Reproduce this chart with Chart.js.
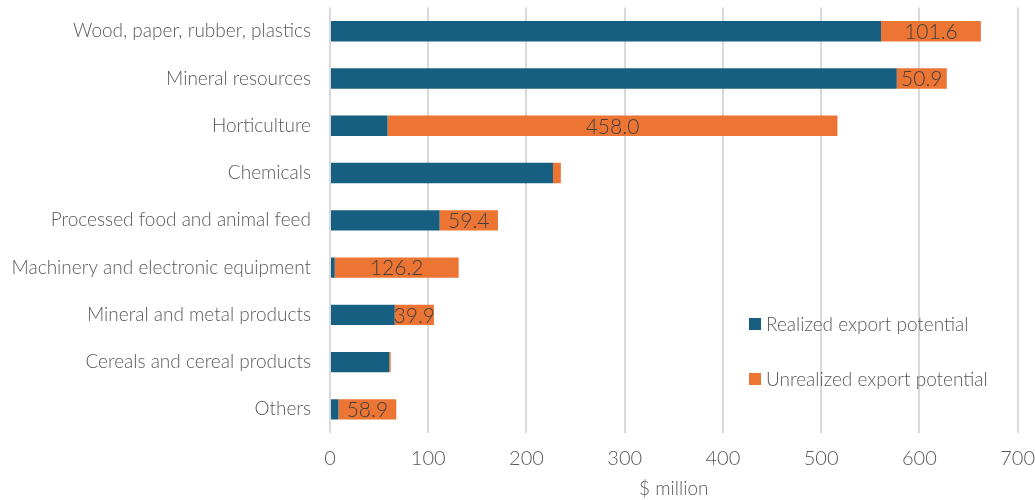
<!DOCTYPE html>
<html>
<head>
<meta charset="utf-8">
<script src="https://cdn.jsdelivr.net/npm/chart.js@4.4.1/dist/chart.umd.min.js"></script>
<style>
  html, body { margin: 0; padding: 0; background: #ffffff; }
  #wrap { width: 1035px; height: 500px; position: relative; }
</style>
</head>
<body>
<div id="wrap"><canvas id="chart" width="1035" height="500"></canvas></div>
<script>
const categories = [
  "Wood, paper, rubber, plastics",
  "Mineral resources",
  "Horticulture",
  "Chemicals",
  "Processed food and animal feed",
  "Machinery and electronic equipment",
  "Mineral and metal products",
  "Cereals and cereal products",
  "Others"
];
const realized   = [561.0, 577.0, 58.6, 227.0, 111.6, 4.8, 65.9, 60.3, 8.6];
const unrealized = [101.6, 50.9, 458.0, 8.0, 59.4, 126.2, 39.9, 1.5, 58.9];
const seriesNames = ["Realized export potential", "Unrealized export potential"];
const xTicks = [0, 100, 200, 300, 400, 500, 600, 700];

const BLUE = "#175f80";
const ORANGE = "#ed7533";
const TEXT = "#595959";
const FONT = "Lato, 'Open Sans', sans-serif";

// Values of the unrealized series, printed in the middle of their segments
const segmentLabels = {
  id: "segmentLabels",
  afterDatasetsDraw(chart) {
    const ctx = chart.ctx;
    const meta = chart.getDatasetMeta(1);
    ctx.save();
    ctx.font = "300 21px " + FONT;
    ctx.fillStyle = "#404040";
    ctx.textAlign = "center";
    ctx.textBaseline = "middle";
    meta.data.forEach((bar, i) => {
      const v = unrealized[i];
      if (v < 20) return;
      const cx = (bar.x + bar.base) / 2;
      ctx.fillText(v.toFixed(1), cx, bar.y + 1);
    });
    ctx.restore();
  }
};

// Legend placed inside the plot, lower right
const insideLegend = {
  id: "insideLegend",
  afterDraw(chart) {
    const ctx = chart.ctx;
    const colors = [BLUE, ORANGE];
    const x0 = 749, ys = [324, 379];
    ctx.save();
    ctx.font = "300 19px " + FONT;
    ctx.textAlign = "left";
    ctx.textBaseline = "middle";
    seriesNames.forEach((name, i) => {
      ctx.fillStyle = colors[i];
      ctx.fillRect(x0, ys[i] - 6, 12, 12);
      ctx.fillStyle = TEXT;
      ctx.fillText(name, x0 + 17, ys[i] + 1);
    });
    ctx.restore();
  }
};

new Chart(document.getElementById("chart"), {
  type: "bar",
  data: {
    labels: categories,
    datasets: [
      { label: seriesNames[0], data: realized, backgroundColor: BLUE, borderWidth: 0,
        barPercentage: 0.43, categoryPercentage: 1.0 },
      { label: seriesNames[1], data: unrealized, backgroundColor: ORANGE, borderWidth: 0,
        barPercentage: 0.43, categoryPercentage: 1.0 }
    ]
  },
  options: {
    indexAxis: "y",
    responsive: false,
    animation: false,
    devicePixelRatio: 1,
    layout: { padding: { top: 0, right: 0, bottom: 0, left: 0 } },
    plugins: {
      legend: { display: false },
      tooltip: { enabled: false }
    },
    scales: {
      x: {
        stacked: true,
        min: 0,
        max: 700,
        afterBuildTicks(scale) { scale.ticks = xTicks.map(v => ({ value: v })); },
        afterFit(scale) { scale.height = 67; },
        grid: { color: "#d9d9d9", lineWidth: 2, drawTicks: true, tickLength: 14, tickColor: "rgba(0,0,0,0)" },
        border: { display: false },
        ticks: { color: TEXT, font: { family: FONT, size: 20, weight: 300 }, padding: 0 },
        title: { display: true, text: "$ million", color: TEXT,
                 font: { family: FONT, size: 19, weight: 300 }, padding: { top: 3, bottom: 0 } }
      },
      y: {
        stacked: true,
        afterFit(scale) { scale.width = 330; },
        grid: { display: true, drawOnChartArea: false, drawTicks: true, tickLength: 19,
                tickColor: "rgba(0,0,0,0)", color: "rgba(0,0,0,0)" },
        border: { display: false },
        ticks: { color: TEXT, font: { family: FONT, size: 19, weight: 300, lineHeight: 0.8 }, padding: 0 }
      }
    }
  },
  plugins: [segmentLabels, insideLegend]
});
</script>
</body>
</html>
